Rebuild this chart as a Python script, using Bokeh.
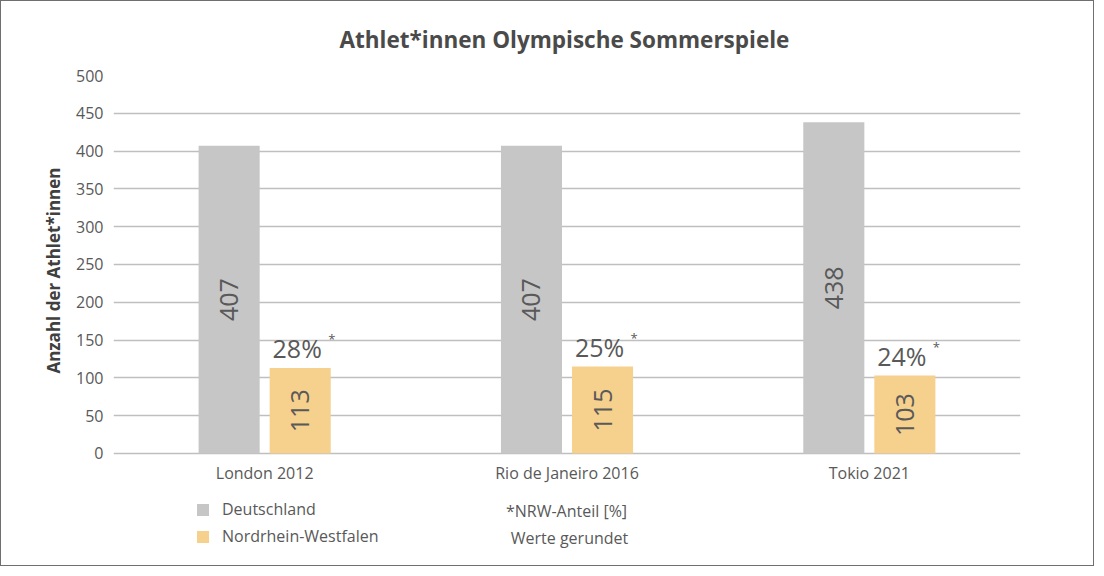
from bokeh.plotting import figure
from bokeh.models import (ColumnDataSource, Legend, LegendItem, Label, Title)
from bokeh.transform import dodge
from bokeh.embed import file_html
from bokeh.resources import INLINE
from bokeh.core.properties import value
import math

# ---- data ----
categories = ["London 2012", "Rio de Janeiro 2016", "Tokio 2021"]
deutschland = [407, 407, 438]
nrw = [113, 115, 103]
nrw_share = ["28%", "25%", "24%"]
series_names = ["Deutschland", "Nordrhein-Westfalen"]
y_ticks = [0, 50, 100, 150, 200, 250, 300, 350, 400, 450, 500]
title_text = "Athlet*innen Olympische Sommerspiele"
y_label = "Anzahl der Athlet*innen"
note_lines = ["*NRW-Anteil [%]", "Werte gerundet"]

FONT = "Open Sans"
TXT = "#595959"
GREY = "#C6C6C6"
GOLD = "#F6D08D"

src = ColumnDataSource(dict(
    cat=categories,
    base=[0] * len(categories),
    de=deutschland,
    nrw=nrw,
    de_mid=[v / 2 for v in deutschland],
    nrw_mid=[v / 2 for v in nrw],
    de_txt=[str(v) for v in deutschland],
    nrw_txt=[str(v) for v in nrw],
    share=nrw_share,
    star=["*"] * len(categories),
))

# frame extends below zero so that the legend/notes area lies inside it
p = figure(x_range=categories, y_range=(-137.6, 500), width=1094, height=566,
           output_backend="svg", toolbar_location=None,
           min_border_left=112, min_border_right=75,
           min_border_top=74, min_border_bottom=10)
p.styles = {"border": "1px solid #6f6f6f"}
p.outline_line_color = None
p.background_fill_color = "white"

OFF = 0.1175
W = 0.202
r_de = p.vbar(x=dodge("cat", -OFF, range=p.x_range), top="de", width=W,
              source=src, fill_color=GREY, line_color=None)
r_nrw = p.vbar(x=dodge("cat", OFF, range=p.x_range), top="nrw", width=W,
               source=src, fill_color=GOLD, line_color=None)

# value labels inside bars (rotated)
p.text(x=dodge("cat", -OFF, range=p.x_range), y="de_mid", text="de_txt", source=src,
       angle=math.pi / 2, text_align="center", text_baseline="middle",
       text_font=value(FONT), text_font_size="25px", text_color=TXT)
p.text(x=dodge("cat", OFF, range=p.x_range), y="nrw_mid", text="nrw_txt", source=src,
       angle=math.pi / 2, text_align="center", text_baseline="middle",
       text_font=value(FONT), text_font_size="25px", text_color=TXT)

# percentage labels above NRW bars
p.text(x=dodge("cat", OFF, range=p.x_range), y="nrw", text="share", source=src,
       text_align="center", text_baseline="middle", x_offset=-3, y_offset=-20,
       text_font=value(FONT), text_font_size="25px", text_color=TXT)
p.text(x=dodge("cat", OFF, range=p.x_range), y="nrw", text="star", source=src,
       text_align="left", text_baseline="top", x_offset=28, y_offset=-38,
       text_font=value(FONT), text_font_size="13px", text_color=TXT)

# category labels under the zero line
p.text(x="cat", y="base", text="cat", source=src,
       text_align="center", text_baseline="middle", y_offset=20,
       text_font=value(FONT), text_font_size="16px", text_color=TXT)

# axes
p.xaxis.visible = False
p.yaxis.ticker = y_ticks
p.yaxis.axis_line_color = None
p.yaxis.major_tick_line_color = None
p.yaxis.minor_tick_line_color = None
p.yaxis.major_tick_out = 0
p.yaxis.major_tick_in = 0
p.yaxis.minor_tick_out = 0
p.yaxis.major_label_standoff = 10
p.yaxis.major_label_text_font = FONT
p.yaxis.major_label_text_font_size = "16px"
p.yaxis.major_label_text_color = TXT

p.xgrid.grid_line_color = None
p.ygrid.grid_line_color = "#BFBFBF"
p.ygrid.grid_line_width = 1.6

# title
p.title = Title(text=title_text, align="left", offset=226, text_font=FONT,
                text_font_size="22.5px", text_font_style="bold",
                text_color="#4a4a4a", standoff=41)

# y-axis label as a left-side title, anchored near the top of the value area
p.add_layout(Title(text=y_label, align="right", offset=92, vertical_align="middle",
                   text_font=FONT, text_font_size="17px", text_font_style="bold",
                   text_color="#404040", standoff=16), "left")

# legend (screen position relative to the frame's bottom-left)
legend = Legend(items=[LegendItem(label=series_names[0], renderers=[r_de]),
                       LegendItem(label=series_names[1], renderers=[r_nrw])],
                location=(82, 10), orientation="vertical",
                glyph_width=15, glyph_height=15, label_height=16,
                label_standoff=12, spacing=5, padding=0, margin=0,
                border_line_color=None, background_fill_alpha=0,
                label_text_font=FONT, label_text_font_size="16px",
                label_text_color=TXT)
p.add_layout(legend, "center")

# note text
p.add_layout(Label(x=453, y=47, x_units="screen", y_units="screen",
                   text=note_lines[0], text_align="center", text_baseline="middle",
                   text_font=FONT, text_font_size="16px", text_color=TXT))
p.add_layout(Label(x=456, y=20, x_units="screen", y_units="screen",
                   text=note_lines[1], text_align="center", text_baseline="middle",
                   text_font=FONT, text_font_size="16px", text_color=TXT))

open("out.html", "w").write(file_html(p, INLINE))
